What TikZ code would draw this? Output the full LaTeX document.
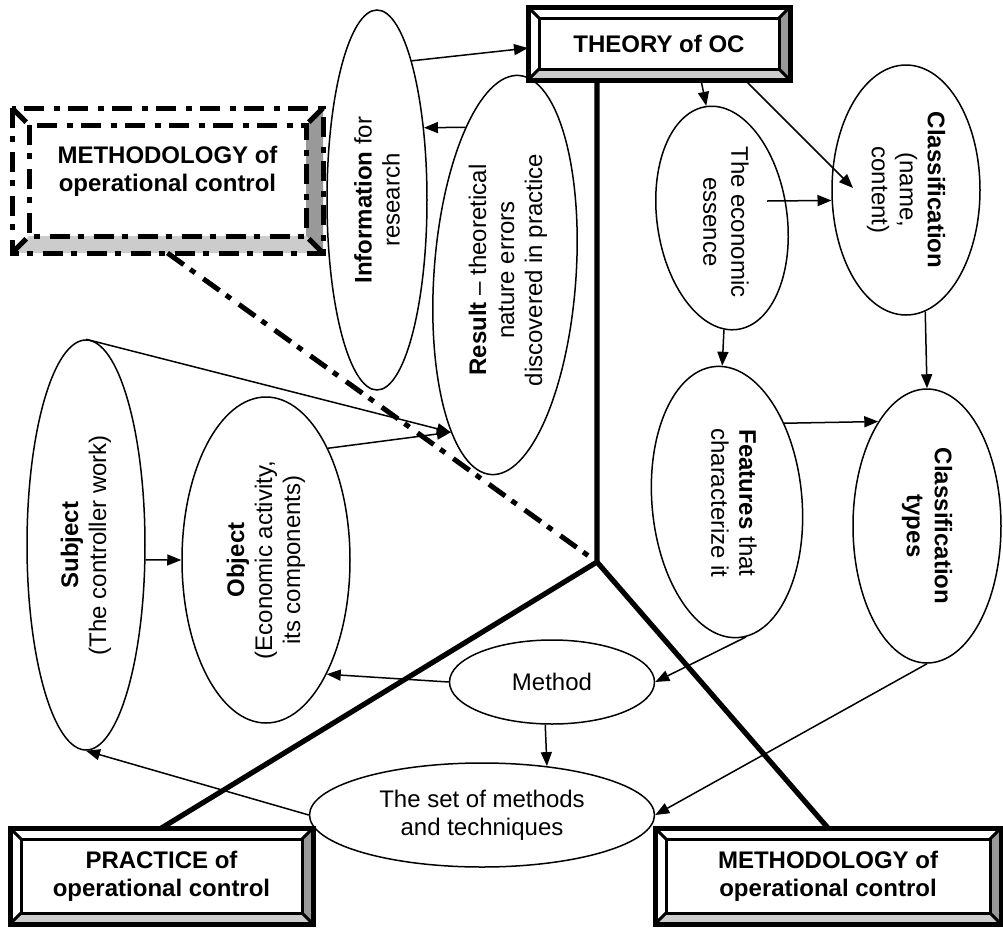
\documentclass[tikz,border=0pt]{standalone}
\usepackage{fontspec}
\setmainfont{Liberation Sans}
\usetikzlibrary{shapes.geometric,arrows.meta,calc}

% bevelled frame round a box node: name, depth, outer line, inner line
\newcommand{\bevelframe}[4]{%
  \coordinate (#1-nw) at ($(#1.north west)+(#2,#2)$);
  \coordinate (#1-ne) at ($(#1.north east)+(-#2,#2)$);
  \coordinate (#1-se) at ($(#1.south east)+(-#2,-#2)$);
  \coordinate (#1-sw) at ($(#1.south west)+(#2,-#2)$);
  \fill[black!40] (#1.north east) -- (#1.south east) -- (#1-se) -- (#1-ne) -- cycle;
  \fill[black!20] (#1.south west) -- (#1.south east) -- (#1-se) -- (#1-sw) -- cycle;
  \draw[#4] (#1-nw) rectangle (#1-se);
  \draw[#4] (#1.north west) -- (#1-nw) (#1.north east) -- (#1-ne)
            (#1.south east) -- (#1-se) (#1.south west) -- (#1-sw);
  \draw[#3] (#1.north west) rectangle (#1.south east);
}

\begin{document}
\begin{tikzpicture}[x=0.5pt, y=-0.5pt,
    oval/.style={ellipse, draw, line width=0.75pt, inner sep=0pt, align=center, font=\fontsize{12}{14}\selectfont},
    ovaltext/.style={inner sep=0pt, align=center, font=\fontsize{12}{14}\selectfont},
    boxlabel/.style={rectangle, inner sep=0pt, outer sep=0pt, align=center, font=\fontsize{12}{14}\selectfont\bfseries},
    arr/.style={-{Triangle[length=7pt, width=5.5pt]}, line width=0.75pt},
    spine/.style={line width=2.6pt, line join=round},
    dashdot/.style={line width=2.5pt, dash pattern=on 10pt off 4pt on 3pt off 5pt},
    outerline/.style={line width=2.5pt},
    innerline/.style={line width=1.5pt}
]
    \useasboundingbox (0,0) rectangle (1003,928);

    % boxes
    \node[boxlabel, minimum width=131pt, minimum height=36.5pt] (theory) at (659,43.5) {THEORY of OC};
    \node[boxlabel, minimum width=155.5pt, minimum height=72.5pt] (methL) at (167.5,180.5) {};
    \node[boxlabel] (methLtext) at (167.5,171) {METHODOLOGY of\\operational control};
    \node[boxlabel, minimum width=151.5pt, minimum height=48pt] (practice) at (161.5,876) {PRACTICE of\\operational control};
    \node[boxlabel, minimum width=173pt, minimum height=48pt] (methR) at (828,876) {METHODOLOGY of\\operational control};

    \bevelframe{theory}{11}{outerline}{innerline}
    \bevelframe{practice}{11}{outerline}{innerline}
    \bevelframe{methR}{11}{outerline}{innerline}
    \bevelframe{methL}{17}{dashdot}{dashdot}

    % ellipses
    \node[oval, rotate=90, minimum width=190pt, minimum height=50pt] (info) at (377,200) {\textbf{Information} for\\research};
    \node[oval, rotate=86, minimum width=200pt, minimum height=71pt] (result) at (505,275) {};
    \node[ovaltext, rotate=90] (resultText) at (508,270) {\textbf{Result} – theoretical\\nature errors\\discovered in practice};
    \node[oval, rotate=-82, minimum width=112.5pt, minimum height=65pt] (essence) at (722,218) {};
    \node[ovaltext, rotate=-90] (essenceText) at (726,222) {The economic\\essence};
    \node[oval, rotate=-90, minimum width=125pt, minimum height=74pt] (classif) at (906,190) {\textbf{Classification}\\(name,\\content)};
    \node[oval, rotate=-85, minimum width=136pt, minimum height=75pt] (features) at (727,502) {};
    \node[ovaltext, rotate=-90] (featuresText) at (734,503) {\textbf{Features} that\\characterize it};
    \node[oval, rotate=-90, minimum width=137pt, minimum height=74pt] (types) at (927,526) {\textbf{Classification}\\\textbf{types}};
    \node[oval, minimum width=102.5pt, minimum height=42pt] (method) at (552,682) {Method};
    \node[oval, minimum width=172.5pt, minimum height=52pt] (set) at (482,815) {The set of methods\\and techniques};
    \node[oval, rotate=90, minimum width=163pt, minimum height=84pt] (object) at (266,560) {\textbf{Object}\\(Economic activity,\\its components)};
    \node[oval, rotate=90, minimum width=205pt, minimum height=59pt] (subject) at (86,545) {\textbf{Subject}\\(The controller work)};

    % thick lines
    \coordinate (J) at (597,562);
    \draw[spine] (J |- theory.south) -- (J) -- (practice.north);
    \draw[spine] (J) -- (methR.north);
    \draw[dashdot] (methL.south) -- (J);

    % arrows
    \coordinate (clsin) at (853,188);
    \coordinate (essout) at (767,201);
    \draw[arr] (info.-14.5) -- (theory.182);
    \draw[arr] (result.19) -- (info.-33);
    \draw[arr] (theory.-41.7) -- (essence.west);
    \draw[arr] (theory.-23.7) -- (clsin);
    \draw[arr] (essout) -- (classif.278.5);
    \draw[arr] (essence.-7) -- (features.177);
    \draw[arr] (features.139) -- (types.205);
    \draw[arr] (classif.9) -- (types.west);
    \draw[arr] (features.3) -- (method.east);
    \draw[arr] (types.east) -- (set.east);
    \draw[arr] (method.west) -- (object.-152.8);
    \draw[arr] (method.-99.5) -- (set.37.5);
    \draw[arr] (set.west) -- (subject.west);
    \draw[arr] (subject.-104.3) -- (object.north);
    \draw[arr] (subject.east) -- (result.165);
    \draw[arr] (object.-29.4) -- (result.165);
\end{tikzpicture}
\end{document}
